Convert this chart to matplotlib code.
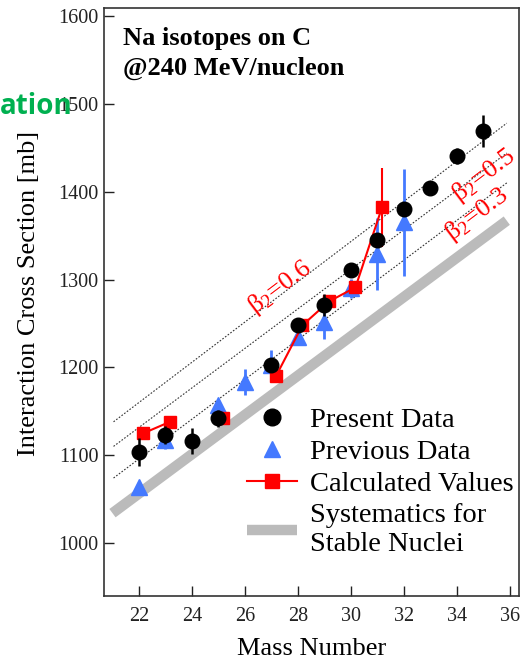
import numpy as np
import matplotlib
matplotlib.use("Agg")
from matplotlib import pyplot as plt
from matplotlib.lines import Line2D

plt.rcParams['font.family'] = ['Liberation Serif', 'DejaVu Serif']
plt.rcParams['mathtext.default'] = 'regular'

# present data (black circles)
present_mass = [22, 23, 24, 25, 27, 28, 29, 30, 31, 32, 33, 34, 35]
present_cs = [1104, 1123, 1116, 1142, 1203, 1248, 1271, 1311, 1345, 1380, 1404, 1441, 1469]
present_err = [16, 10, 15, 10, 8, 5, 13, 6, 8, 8, 4, 9, 18]

# previous data (blue triangles)
prev_mass = [22, 23, 25, 26, 27, 28, 29, 30, 31, 32]
prev_cs = [1064, 1117, 1157, 1183, 1203, 1235, 1252, 1290, 1329, 1365]
prev_err = [0, 10, 0, 15, 17, 7, 20, 11, 41, 61]

# calculated values (red squares), NaN breaks the line
calc_mass = [22, 23, 24, 25, 26, 27, 28, 29, 30, 31]
calc_cs = [1125, 1138, np.nan, 1142, np.nan, 1190, 1248, 1275, 1291, 1382]
calc_err = [0, 0, 0, 0, 0, 0, 0, 0, 0, 45]

# systematics for stable nuclei
sys_mass = [21.0, 35.88]
sys_cs = [1034, 1367]

# constant deformation lines
beta_mass = [21.04, 35.88]
beta06 = [1138, 1478]
beta05 = [1110, 1444]
beta03 = [1074, 1410]

xticks = [22, 24, 26, 28, 30, 32, 34, 36]
yticks = [1000, 1100, 1200, 1300, 1400, 1500, 1600]

blue = '#4479FF'
red = '#FF0000'

fig = plt.figure(figsize=(5.2, 6.6), dpi=100)
ax = fig.add_axes([0.2, 0.097, 0.798, 0.891])

ax.plot(sys_mass, sys_cs, color='#BBBBBB', lw=7.5, solid_capstyle='butt', zorder=1)
for b in [beta06, beta05, beta03]:
    ax.plot(beta_mass, b, color='#333333', lw=0.8, ls=(0, (1.5, 1.5)), zorder=2)

ax.errorbar(prev_mass, prev_cs, yerr=prev_err, fmt='^', color=blue, ms=11,
            elinewidth=2, capsize=0, zorder=3)
calc_x = np.array(calc_mass) + 0.17
ax.errorbar(calc_x, calc_cs, yerr=calc_err, fmt='s-', color=red, ms=8.5,
            lw=1.5, elinewidth=1.5, capsize=0, zorder=4)
ax.errorbar(present_mass, present_cs, yerr=present_err, fmt='o', color='black',
            ms=10.5, elinewidth=1.8, capsize=0, zorder=5)

beta_kw = dict(color=red, fontsize=19, rotation=37, ha='center', va='center')
ax.text(27.3, 1291, r'$\beta_2$=0.6', **beta_kw)
ax.text(35.0, 1418, r'$\beta_2$=0.5', **beta_kw)
ax.text(34.75, 1374, r'$\beta_2$=0.3', **beta_kw)

ax.text(0.046, 0.967, 'Na isotopes on C\n@240 MeV/nucleon', transform=ax.transAxes,
        fontsize=19, fontweight='bold', va='top', ha='left', linespacing=1.35)

ax.set_xlim(20.68, 36.34)
ax.set_ylim(939.7, 1609.2)
ax.set_xticks(xticks)
ax.set_yticks(yticks)
ax.tick_params(direction='in', length=7, width=1, labelsize=14.5, colors='#222222')
ax.tick_params(axis='x', pad=8)
ax.tick_params(axis='y', pad=4)
for s in ax.spines.values():
    s.set_linewidth(1.2)
    s.set_color('#333333')

ax.set_xlabel('Mass Number', fontsize=19)
ax.set_ylabel('Interaction Cross Section [mb]', fontsize=19)
ax.xaxis.set_label_coords(0.5, -0.071)
ax.yaxis.set_label_coords(-0.154, 0.514)

handles = [
    Line2D([], [], marker='o', ls='none', color='black', ms=12),
    Line2D([], [], marker='^', ls='none', color=blue, ms=12),
    Line2D([], [], marker='s', color=red, ms=10, lw=1.5),
    Line2D([], [], color='#BBBBBB', lw=7.5, solid_capstyle='butt'),
]
labels = ['Present Data', 'Previous Data', 'Calculated Values', 'Systematics for\nStable Nuclei']
ax.legend(handles, labels, loc='upper left', bbox_to_anchor=(0.345, 0.322),
          frameon=False, fontsize=20.5, handlelength=1.75, handletextpad=0.45,
          labelspacing=0.22, borderpad=0, borderaxespad=0)

fig.text(0.0, 1 - 107 / 660, 'ation', color='#00B050', fontsize=20, fontweight='bold',
         family=['Open Sans', 'DejaVu Sans'], ha='left', va='center', zorder=10)

fig.savefig('out.png', dpi=100)
